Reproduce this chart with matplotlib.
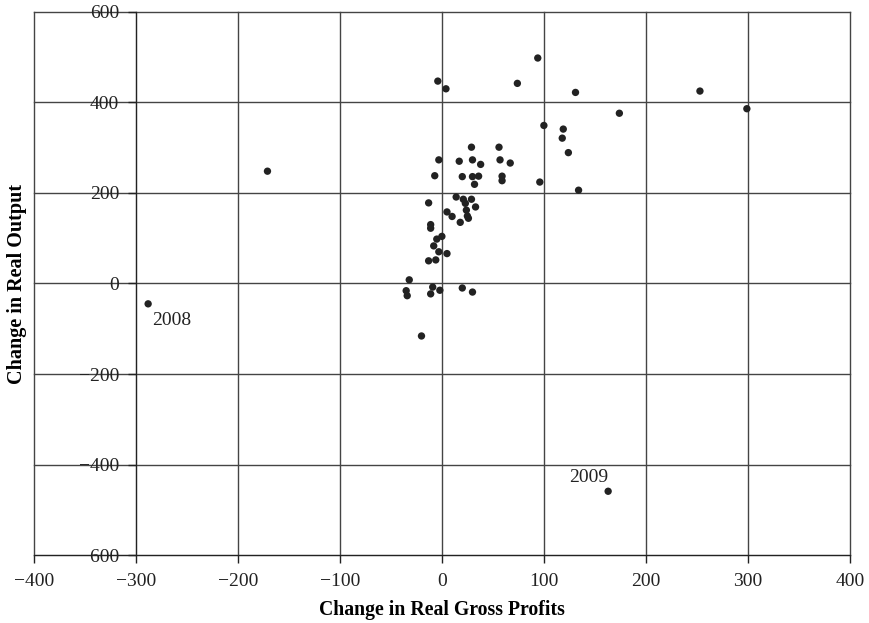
import matplotlib.pyplot as plt

plt.rcParams['font.family'] = ['Liberation Serif', 'DejaVu Serif']

# change in real gross profits (x) and change in real output (y)
profits = [-4, 4, 74, 94, 131, 174, 100, 119, 118, 124, 96, 134,
           29, 56, -3, 17, 30, 38, 57, 67, -7, 20, 30, 36, 59, 59, 32,
           14, 21, 29, 23, 33, -13, 24, 25, 26, 5, 10, 18, -11, -11,
           0, -5, -8, -3, 5, -13, -6, -32, -35, -34, -9, -11, -2, 20, 30,
           -20, -171, -288, 163, 253, 299]
output = [447, 430, 442, 498, 422, 376, 349, 341, 321, 289, 224, 206,
          301, 301, 273, 270, 273, 263, 273, 266, 238, 236, 236, 237, 237, 227, 219,
          191, 186, 186, 177, 169, 178, 162, 149, 144, 158, 148, 135, 130, 122,
          104, 98, 83, 70, 66, 50, 52, 8, -16, -27, -8, -23, -15, -10, -19,
          -116, 248, -45, -459, 425, 386]

labels = ['2008', '2009']
label_xy = [(-288, -45), (163, -459)]

x_ticks = list(range(-400, 401, 100))
y_ticks = list(range(-600, 601, 200))

fig = plt.figure(figsize=(8.69, 6.23), dpi=100)
ax = fig.add_axes([0.039, 0.109, 0.939, 0.872])

ax.scatter(profits, output, s=28, color='#222222', edgecolors='none', zorder=3)

# year annotations
ax.annotate(labels[0], label_xy[0], xytext=(3, -6), textcoords='offset points',
            ha='left', va='top', fontsize=14, color='#222222')
ax.annotate(labels[1], label_xy[1], xytext=(-14, 4), textcoords='offset points',
            ha='center', va='bottom', fontsize=14, color='#222222')

ax.set_xlim(-400, 400)
ax.set_ylim(-600, 600)
ax.set_xticks(x_ticks)
ax.set_yticks(y_ticks)
ax.grid(True, color='#444444', linewidth=1.0, clip_on=False)

ax.spines['top'].set_visible(False)
ax.spines['right'].set_visible(False)
ax.spines['left'].set_position(('data', -300))
ax.spines['left'].set_color('#222222')
ax.spines['bottom'].set_color('#222222')

ax.tick_params(axis='both', direction='out', length=6, width=1.0,
               labelsize=14, colors='#222222')
ax.tick_params(axis='x', pad=7)
ax.tick_params(axis='y', pad=6)

ax.set_xlabel('Change in Real Gross Profits', fontsize=14.2, fontweight='bold')
ax.set_ylabel('Change in Real Output', fontsize=14.5, fontweight='bold')
ax.xaxis.set_label_coords(0.5, -0.083)
ax.yaxis.set_label_coords(-0.008, 0.5)

plt.savefig('out.png', dpi=100)
